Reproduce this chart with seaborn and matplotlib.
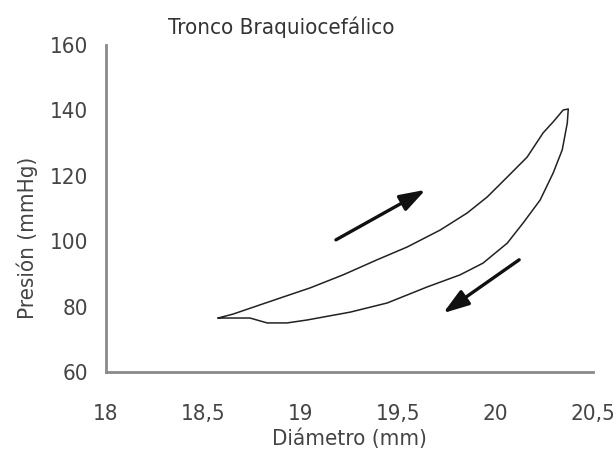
import pandas as pd
import seaborn as sns
import matplotlib.pyplot as plt

# loop traced counter-clockwise: loading branch (upper) then unloading branch (lower)
diametro_carga = [18.575, 18.652, 18.755, 18.893, 19.047, 19.217, 19.391, 19.545,
                  19.715, 19.853, 19.956, 20.059, 20.161, 20.243, 20.295, 20.346, 20.372]
presion_carga = [76.5, 77.7, 79.8, 82.6, 85.7, 89.7, 94.3, 98.2,
                 103.4, 108.6, 113.5, 119.6, 125.7, 133.1, 136.5, 140.1, 140.4]

diametro_descarga = [20.372, 20.367, 20.341, 20.295, 20.228, 20.141, 20.059, 19.935,
                     19.817, 19.648, 19.443, 19.253, 19.032, 18.929, 18.827, 18.739,
                     18.652, 18.575]
presion_descarga = [140.4, 136.1, 127.9, 120.9, 112.6, 105.6, 99.4, 93.3,
                    89.7, 86.0, 81.1, 78.3, 75.9, 75.0, 75.0, 76.5, 76.5, 76.5]

# direction arrows (tail, head)
flecha_subida = [(19.18, 100.4), (19.64, 115.7)]
flecha_bajada = [(20.12, 94.3), (19.73, 78.0)]

x_ticks = [18, 18.5, 19, 19.5, 20, 20.5]
x_labels = ['18', '18,5', '19', '19,5', '20', '20,5']
y_ticks = [60, 80, 100, 120, 140, 160]

df = pd.DataFrame({
    'diametro': diametro_carga + diametro_descarga,
    'presion': presion_carga + presion_descarga,
})

sns.set_style("white")
plt.rcParams['font.family'] = ['DejaVu Sans']
plt.rcParams['font.stretch'] = 'condensed'

fig = plt.figure(figsize=(6.16, 4.49), dpi=100)
ax = fig.add_axes([0.172, 0.1715, 0.791, 0.7285])

sns.lineplot(data=df, x='diametro', y='presion', sort=False, estimator=None,
             color='#222222', linewidth=1.1, ax=ax)

for tail, head in [flecha_subida, flecha_bajada]:
    ax.annotate('', xy=head, xytext=tail,
                arrowprops=dict(arrowstyle='-|>,head_length=0.6,head_width=0.2',
                                color='#111111', lw=2.4,
                                mutation_scale=26, shrinkA=0, shrinkB=0))

ax.set_xlim(18, 20.5)
ax.set_ylim(60, 160)
ax.set_xticks(x_ticks)
ax.set_xticklabels(x_labels)
ax.set_yticks(y_ticks)

sns.despine(ax=ax)
for side in ['left', 'bottom']:
    ax.spines[side].set_color('#8a8a8a')
    ax.spines[side].set_linewidth(2)

ax.tick_params(axis='both', direction='out', length=7, width=2, color='#8a8a8a',
               labelsize=16, labelcolor='#444444')
ax.tick_params(axis='x', pad=16)
ax.tick_params(axis='y', pad=6)

ax.set_xlabel('Diámetro (mm)', fontsize=16, color='#444444', labelpad=3)
ax.set_ylabel('Presión (mmHg)', fontsize=16, color='#444444')
ax.yaxis.set_label_coords(-0.14, 0.41)
ax.set_title('Tronco Braquiocefálico', fontsize=16, color='#333333', x=0.36, pad=8)

plt.savefig('out.png', dpi=100)
plt.close()
